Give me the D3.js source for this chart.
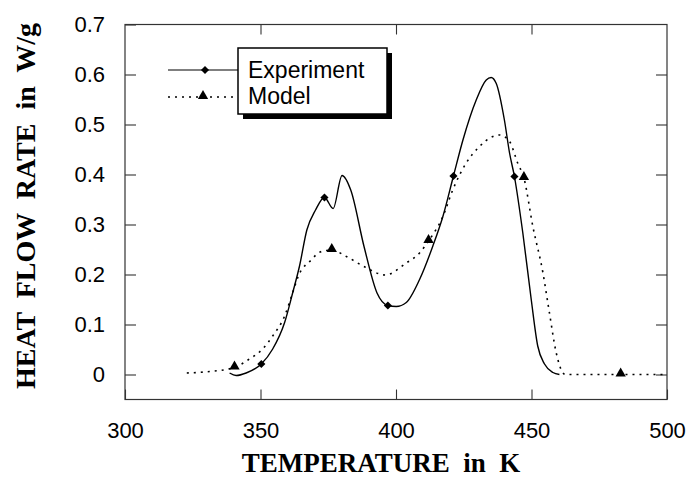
<!DOCTYPE html>
<html>
<head>
<meta charset="utf-8">
<script src="https://cdn.jsdelivr.net/npm/d3@7"></script>
<style>
  html, body { margin: 0; padding: 0; background: #fff; }
  svg { display: block; }
</style>
</head>
<body>
<svg id="chart" width="688" height="481"></svg>
<script>
// ---- data ----
const expT = [338.6, 341.0, 344.7, 350.3, 354.5, 358.9, 361.9, 364.4, 367.1, 370.3, 373.6, 376.8, 380.1, 383.3, 388.2, 393.0, 397.0, 400.1, 403.8, 408.7, 413.6, 417.3, 421.2, 424.7, 429.6, 433.3, 435.1, 437.0, 440.0, 441.9, 443.7, 446.8, 449.9, 452.3, 454.8, 457.9, 460.3];
const expV = [0.003, -0.002, 0.003, 0.021, 0.051, 0.104, 0.164, 0.217, 0.289, 0.329, 0.354, 0.332, 0.398, 0.369, 0.256, 0.163, 0.138, 0.136, 0.144, 0.190, 0.257, 0.316, 0.397, 0.469, 0.549, 0.589, 0.594, 0.582, 0.509, 0.443, 0.396, 0.283, 0.150, 0.057, 0.021, 0.004, 0.0];

const modT = [322.8, 331.2, 340.4, 345.9, 350.8, 354.5, 358.9, 361.9, 363.9, 368.7, 372.0, 376.3, 381.7, 388.2, 396.0, 403.8, 408.7, 412.0, 417.3, 421.0, 425.9, 430.8, 435.7, 438.2, 441.9, 444.9, 447.2, 450.5, 454.2, 456.6, 459.1, 461.5, 462.5, 482.9, 500.0];
const modV = [0.003, 0.006, 0.014, 0.031, 0.051, 0.077, 0.117, 0.164, 0.196, 0.229, 0.245, 0.249, 0.236, 0.216, 0.199, 0.223, 0.243, 0.267, 0.316, 0.370, 0.423, 0.456, 0.476, 0.479, 0.466, 0.423, 0.393, 0.296, 0.204, 0.124, 0.044, 0.004, 0.0, 0.0, 0.0];

const expMarkT = [350.3, 373.6, 397.0, 421.2, 443.7];
const expMarkV = [0.021, 0.354, 0.138, 0.397, 0.396];
const modMarkT = [340.4, 376.3, 412.0, 447.2, 482.9];
const modMarkV = [0.014, 0.249, 0.267, 0.393, 0.0];

const xTicks = [300, 350, 400, 450, 500];
const yTicks = [0, 0.1, 0.2, 0.3, 0.4, 0.5, 0.6, 0.7];
const seriesNames = ["Experiment", "Model"];
const xTitle = "TEMPERATURE  in  K";
const yTitle = "HEAT  FLOW  RATE  in  W/g";

// ---- layout ----
const L = 125, R = 667, T = 24.5, B = 399.5;
const svg = d3.select("#chart");
const x = d3.scaleLinear().domain([300, 500]).range([L, R]);
const y = d3.scaleLinear().domain([-0.05, 0.7]).range([B, T]);

const sans = "'Liberation Sans', Arial, Helvetica, sans-serif";
const serif = "'Liberation Serif', 'Times New Roman', Times, serif";

// frame
svg.append("rect").attr("x", L).attr("y", T).attr("width", R - L).attr("height", B - T)
  .attr("fill", "none").attr("stroke", "#333").attr("stroke-width", 1.2);

// axes
const fmtY = d => d === 0 ? "0" : d3.format(".1f")(d);
const gl = svg.append("g").attr("transform", `translate(${L},0)`)
  .call(d3.axisLeft(y).tickValues(yTicks).tickSizeInner(-11).tickSizeOuter(0).tickPadding(20).tickFormat(fmtY));
const gr = svg.append("g").attr("transform", `translate(${R},0)`)
  .call(d3.axisRight(y).tickValues(yTicks.slice(0, 7)).tickSizeInner(-11).tickSizeOuter(0).tickFormat(""));
const gb = svg.append("g").attr("transform", `translate(0,${B})`)
  .call(d3.axisBottom(x).tickValues(xTicks).tickSizeInner(-10).tickSizeOuter(0).tickPadding(23).tickFormat(d3.format("d")));
const gt = svg.append("g").attr("transform", `translate(0,${T})`)
  .call(d3.axisTop(x).tickValues(xTicks.slice(1, 4)).tickSizeInner(-10).tickSizeOuter(0).tickFormat(""));
[gl, gr, gb, gt].forEach(g => {
  g.select(".domain").remove();
  g.selectAll(".tick line").attr("stroke", "#333").attr("stroke-width", 1.1);
  g.selectAll("text").attr("fill", "#000").style("font-family", sans).style("font-size", "22px");
});

// curves
const line = d3.line().x(d => x(d[0])).y(d => y(d[1])).curve(d3.curveMonotoneX);
svg.append("path").datum(modT.map((t, i) => [t, modV[i]]))
  .attr("d", line).attr("fill", "none").attr("stroke", "#000")
  .attr("stroke-width", 1.6).attr("stroke-dasharray", "2,5");
svg.append("path").datum(expT.map((t, i) => [t, expV[i]]))
  .attr("d", line).attr("fill", "none").attr("stroke", "#000").attr("stroke-width", 1.4);

// markers
const diamond = d3.symbol().type(d3.symbolDiamond2).size(42);
const triangle = d3.symbol().type(d3.symbolTriangle).size(46);
svg.append("g").selectAll("path").data(expMarkT.map((t, i) => [t, expMarkV[i]])).join("path")
  .attr("d", diamond).attr("transform", d => `translate(${x(d[0])},${y(d[1])})`).attr("fill", "#000");
svg.append("g").selectAll("path").data(modMarkT.map((t, i) => [t, modMarkV[i]])).join("path")
  .attr("d", triangle).attr("transform", d => `translate(${x(d[0])},${y(d[1]) - 1})`).attr("fill", "#000");

// legend
const lg = svg.append("g");
lg.append("rect").attr("x", 243).attr("y", 53).attr("width", 149).attr("height", 66).attr("fill", "#000");
lg.append("rect").attr("x", 238).attr("y", 48).attr("width", 149).attr("height", 66)
  .attr("fill", "#fff").attr("stroke", "#000").attr("stroke-width", 1.5);
lg.append("line").attr("x1", 168).attr("x2", 238).attr("y1", 70).attr("y2", 70)
  .attr("stroke", "#000").attr("stroke-width", 1.2);
lg.append("path").attr("d", diamond).attr("transform", "translate(205,70)");
lg.append("line").attr("x1", 168).attr("x2", 238).attr("y1", 97).attr("y2", 97)
  .attr("stroke", "#000").attr("stroke-width", 1.5).attr("stroke-dasharray", "2,5");
lg.append("path").attr("d", triangle).attr("transform", "translate(203,96)");
lg.selectAll("text").data(seriesNames).join("text")
  .attr("x", 248).attr("y", (d, i) => 78 + i * 26)
  .style("font-family", sans).style("font-size", "23px").attr("fill", "#000")
  .text(d => d);

// titles
svg.append("text").attr("x", 381).attr("y", 472).attr("text-anchor", "middle")
  .style("font-family", serif).style("font-size", "27px").style("font-weight", "bold")
  .style("white-space", "pre").text(xTitle);
svg.append("text").attr("transform", "translate(35,206) rotate(-90)").attr("text-anchor", "middle")
  .style("font-family", serif).style("font-size", "28px").style("font-weight", "bold")
  .style("white-space", "pre").text(yTitle);
</script>
</body>
</html>
